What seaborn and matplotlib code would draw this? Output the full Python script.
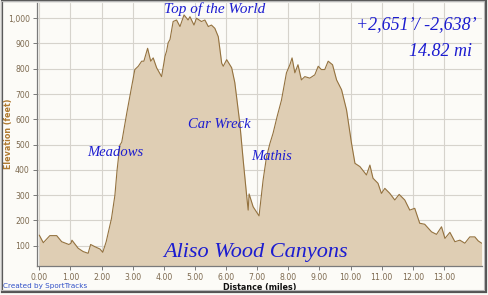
import numpy as np
import pandas as pd
import matplotlib
matplotlib.use("Agg")
import matplotlib.pyplot as plt
import seaborn as sns
from matplotlib.ticker import FuncFormatter
from matplotlib.patches import Rectangle

distance_mi = [0.00, 0.13, 0.34, 0.56, 0.72, 0.95, 1.02, 1.05, 1.25, 1.41, 1.57, 1.65, 1.79, 1.95, 2.04,
               2.15, 2.32, 2.43, 2.50, 2.59, 2.65, 2.81, 2.97, 3.07, 3.18, 3.29, 3.36, 3.48, 3.58, 3.66,
               3.77, 3.93, 4.04, 4.09, 4.14, 4.20, 4.30, 4.41, 4.52, 4.65, 4.78, 4.84, 4.97, 5.05, 5.21,
               5.32, 5.43, 5.53, 5.64, 5.75, 5.86, 5.91, 6.02, 6.18, 6.28, 6.44, 6.55, 6.66, 6.71, 6.74,
               6.87, 7.06, 7.19, 7.30, 7.41, 7.51, 7.64, 7.78, 7.94, 8.05, 8.12, 8.21, 8.31, 8.42, 8.53,
               8.69, 8.85, 8.96, 9.06, 9.17, 9.28, 9.42, 9.55, 9.71, 9.87, 10.03, 10.14, 10.30, 10.51,
               10.62, 10.72, 10.88, 10.99, 11.10, 11.26, 11.42, 11.56, 11.74, 11.90, 12.06, 12.22, 12.38,
               12.60, 12.76, 12.92, 13.03, 13.19, 13.35, 13.51, 13.67, 13.83, 13.99, 14.10, 14.21]
elevation_ft = [142, 112, 140, 140, 116, 105, 110, 122, 90, 77, 70, 105, 96, 87, 74,
                116, 208, 300, 400, 498, 510, 624, 731, 797, 810, 830, 830, 881, 830, 843,
                804, 769, 850, 870, 903, 916, 987, 993, 967, 1013, 993, 1006, 973, 1000, 987,
                993, 967, 973, 960, 927, 822, 810, 836, 804, 746, 587, 439, 300, 241, 305,
                254, 218, 360, 452, 505, 545, 611, 676, 784, 816, 843, 784, 816, 756, 769,
                763, 776, 810, 797, 797, 830, 816, 756, 717, 637, 505, 426, 413, 380,
                419, 367, 347, 307, 327, 307, 281, 303, 281, 241, 248, 189, 185,
                155, 145, 175, 129, 153, 116, 122, 110, 135, 135, 119, 110]

x_ticks = list(range(0, 14))
y_ticks = list(range(100, 1001, 100))
title_text = "Top of the World"
gain_text = "+2,651\u2019/ -2,638\u2019"
dist_text = "14.82 mi"
place_labels = ["Meadows", "Car Wreck", "Mathis"]
park_text = "Aliso Wood Canyons"

df = pd.DataFrame({"Distance": distance_mi, "Elevation": elevation_ft})

sns.set_theme(style="white")
plt.rcParams["font.family"] = ["DejaVu Sans"]

fig = plt.figure(figsize=(4.89, 2.95), dpi=100)
fig.patch.set_facecolor("#fcfbf7")
ax = fig.add_axes([0.075, 0.0993, 0.910, 0.8895])
ax.set_facecolor("#fcfbf7")

ax.fill_between(df["Distance"], df["Elevation"], 0, color="#dfceb4", zorder=2, linewidth=0)
sns.lineplot(data=df, x="Distance", y="Elevation", ax=ax, color="#94723f", linewidth=0.8, zorder=3)

ax.set_xlim(-0.083, 14.21)
ax.set_ylim(21, 1059)
ax.set_xticks(x_ticks)
ax.set_yticks(y_ticks)
ax.xaxis.set_major_formatter(FuncFormatter(lambda v, p: f"{v:.2f}"))
ax.yaxis.set_major_formatter(FuncFormatter(lambda v, p: f"{int(v):,}"))
ax.grid(True, color="#d6d3cc", linewidth=0.8, zorder=1)
ax.set_axisbelow(True)
for s in ["top", "right"]:
    ax.spines[s].set_visible(False)
ax.spines["left"].set_color("#7a7a7a")
ax.spines["bottom"].set_color("#7a7a7a")
ax.spines["left"].set_linewidth(0.9)
ax.spines["bottom"].set_linewidth(0.9)
ax.tick_params(axis="both", which="major", length=3, width=0.7, color="#7a7a7a",
               labelsize=5.6, labelcolor="#7d6a50", pad=2, direction="out", left=True, bottom=True)

ax.set_ylabel("Elevation (feet)", fontsize=5.8, color="#b07a30", fontweight="bold")
ax.yaxis.set_label_coords(-0.053, 0.502)
ax.set_xlabel("Distance (miles)", fontsize=5.8, color="#111111", fontweight="bold")
ax.xaxis.set_label_coords(0.502, -0.066)

serif = ["Liberation Serif"]
blue = "#1c1cd0"
fig.text(215 / 489, 1 - 9 / 295, title_text, ha="center", va="center", fontsize=11,
         style="italic", family=serif, color=blue)
fig.text(477 / 489, 1 - 25 / 295, gain_text, ha="right", va="center", fontsize=13,
         style="italic", family=serif, color=blue)
fig.text(472 / 489, 1 - 52 / 295, dist_text, ha="right", va="center", fontsize=13,
         style="italic", family=serif, color=blue)
fig.text(115 / 489, 1 - 152 / 295, place_labels[0], ha="center", va="center", fontsize=10.5,
         style="italic", family=serif, color=blue)
fig.text(219 / 489, 1 - 124 / 295, place_labels[1], ha="center", va="center", fontsize=10.5,
         style="italic", family=serif, color=blue)
fig.text(272 / 489, 1 - 157 / 295, place_labels[2], ha="center", va="center", fontsize=10.5,
         style="italic", family=serif, color=blue)
fig.text(256 / 489, 1 - 253 / 295, park_text, ha="center", va="center", fontsize=16,
         style="italic", family=serif, color=blue)
fig.text(3 / 489, 1 - 286 / 295, "Created by SportTracks", ha="left", va="center", fontsize=5.2,
         color="#3050c8")

# frame with shadow
fig.patches.append(Rectangle((2 / 489, 3 / 295), 484 / 489, 291 / 295, transform=fig.transFigure,
                             fill=False, edgecolor="#555555", linewidth=1.6, zorder=0))
fig.patches.append(Rectangle((0.5 / 489, 5 / 295), 484 / 489, 289.5 / 295, transform=fig.transFigure,
                             fill=False, edgecolor="#b8b8b8", linewidth=0.8, zorder=1))

fig.savefig("out.png", dpi=100, facecolor=fig.get_facecolor())
